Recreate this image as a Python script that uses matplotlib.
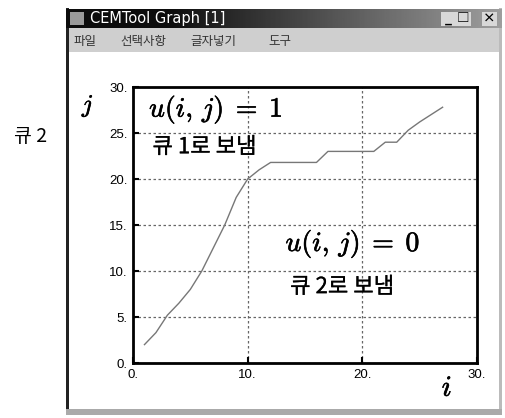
import numpy as np
import matplotlib
matplotlib.use("Agg")
import matplotlib.pyplot as plt
import matplotlib.patheffects as pe
from matplotlib.patches import Rectangle
from matplotlib.ticker import FuncFormatter

plt.rcParams['font.family'] = ['Noto Sans CJK KR', 'DejaVu Sans']
plt.rcParams['mathtext.fontset'] = 'cm'

# queue length trajectory
i_vals = [1, 2, 3, 4, 5, 6, 7, 8, 9, 10, 11, 12, 13, 14, 15, 16, 17, 18, 19,
          20, 21, 22, 23, 24, 25, 26, 27]
j_vals = [2, 3.3, 5.2, 6.5, 8, 10, 12.5, 15, 18, 20, 21, 21.8, 21.8, 21.8,
          21.8, 21.8, 23, 23, 23, 23, 23, 24, 24, 25.3, 26.2, 27, 27.8]

xticks = [0, 10, 20, 30]
yticks = [0, 5, 10, 15, 20, 25, 30]
menu_items = ["파일", "선택사항", "글자넣기", "도구"]
menu_x = [74, 120, 190, 268]

W, H = 506, 418
fig = plt.figure(figsize=(W / 100, H / 100), dpi=100)
thick = [pe.withStroke(linewidth=0.45, foreground="black")]
thin = [pe.withStroke(linewidth=0.15, foreground="black")]

# window frame drawn in pixel units
chrome = fig.add_axes([0, 0, 1, 1], zorder=0)
chrome.set_xlim(0, W)
chrome.set_ylim(H, 0)
chrome.axis("off")

chrome.add_patch(Rectangle((67, 28), 435, 24, color="#cfcfcf", lw=0))
chrome.add_patch(Rectangle((67, 52), 435, 358, color="white", lw=0))
chrome.add_patch(Rectangle((66, 8), 3, 406, color="#222222", lw=0))
chrome.add_patch(Rectangle((499, 8), 3, 406, color="#bbbbbb", lw=0))
chrome.add_patch(Rectangle((66, 409), 436, 6, color="#aaaaaa", lw=0))

# title bar gradient
grad = np.concatenate([np.full(60, 0.05), np.linspace(0.05, 0.62, 200)])[None, :]
chrome.imshow(grad, extent=(66, 502, 28, 9), cmap="gray", vmin=0, vmax=1,
              aspect="auto", zorder=1)
chrome.add_patch(Rectangle((70, 12), 14, 13, color="#9a9a9a", lw=0, zorder=2))
chrome.text(90, 18.5, "CEMTool Graph [1]", color="white", fontsize=10.5,
            va="center", ha="left", family=["DejaVu Sans"], zorder=3)
for bx, glyph in [(441, "_"), (456, "□"), (482, "×")]:
    chrome.add_patch(Rectangle((bx, 12), 15, 14, color="#d8d8d8", lw=0, zorder=2))
    chrome.text(bx + 7.5, 19, glyph, fontsize=9, fontweight="bold",
                ha="center", va="center", zorder=3)

for mx, label in zip(menu_x, menu_items):
    chrome.text(mx, 42, label, fontsize=9, color="#333333",
                va="center", ha="left")

chrome.text(31, 136, "큐 2", fontsize=14, ha="center", va="center")
chrome.text(88, 106, "$j$", fontsize=18, ha="center", va="center",
            path_effects=thick)
chrome.text(447, 388, "$i$", fontsize=21, ha="center", va="center",
            path_effects=thick)

# plot area
ax = fig.add_axes([133 / W, 1 - 363 / H, 344 / W, 276 / H], zorder=1)
ax.patch.set_alpha(0)
ax.plot(i_vals, j_vals, color="#777777", lw=1)
ax.set_xlim(0, 30)
ax.set_ylim(0, 30)
ax.set_xticks(xticks)
ax.set_yticks(yticks)
fmt = FuncFormatter(lambda v, p: "%d." % v)
ax.xaxis.set_major_formatter(fmt)
ax.yaxis.set_major_formatter(fmt)
ax.tick_params(direction="in", length=4, width=1.5, pad=4, labelsize=9.5)
for lab in ax.get_xticklabels() + ax.get_yticklabels():
    lab.set_family("Liberation Sans")
ax.grid(True, color="#666666", ls=(0, (2, 2)), lw=0.9)
for s in ax.spines.values():
    s.set_linewidth(2)

ax.text(1.4, 27.6, r"$u(i,\,j)\;=\;1$", fontsize=20, va="center", ha="left",
        path_effects=thick)
ax.text(1.7, 23.5, "큐 1로 보냄", fontsize=16, va="center", ha="left",
        path_effects=thin)
ax.text(13.3, 13.0, r"$u(i,\,j)\;=\;0$", fontsize=20, va="center", ha="left",
        path_effects=thick)
ax.text(13.7, 8.3, "큐 2로 보냄", fontsize=16, va="center", ha="left",
        path_effects=thin)

fig.savefig("out.png", dpi=100)
